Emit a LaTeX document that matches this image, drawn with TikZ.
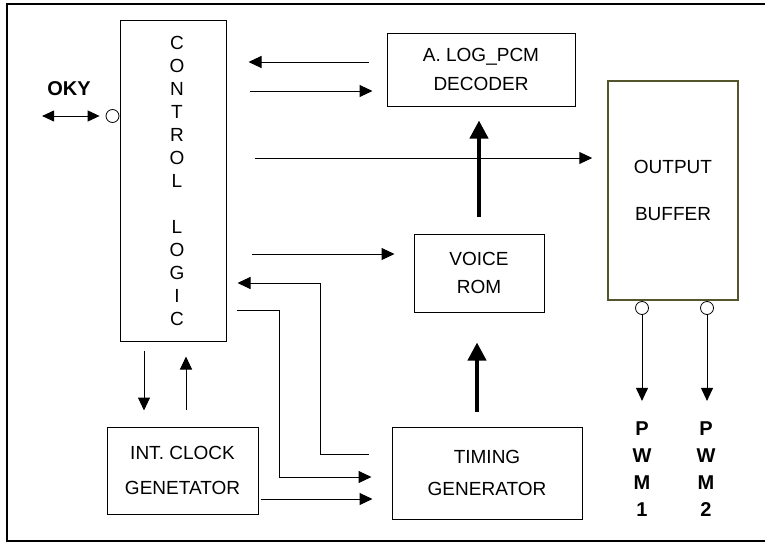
\documentclass[tikz,border=0pt]{standalone}
\usepackage{fontspec}
\setmainfont{Liberation Sans}
\usetikzlibrary{arrows.meta,calc}
\definecolor{bufcolor}{RGB}{85,85,45}

\begin{document}
\begin{tikzpicture}[x=1pt,y=-1pt,
  blk/.style={draw=black,line width=1pt,align=center,inner sep=0pt,
    font=\fontsize{19}{22}\selectfont},
  arr/.style={line width=1pt,-{Triangle[length=13pt,width=12pt]}},
  bigarr/.style={line width=4pt,-{Triangle[length=18pt,width=18pt]}},
  port/.style={draw,circle,line width=0.8pt,fill=white,inner sep=0pt,minimum size=13pt},
  pin/.style={align=center,font=\fontsize{20}{27}\selectfont\bfseries}
]
\useasboundingbox (0,0) rectangle (765,544);

% ================= OUTER FRAME =================
\draw[line width=1.5pt] (772,4) -- (7,4) -- (7,541) -- (772,541);

% ================= BLOCKS =================
\node[blk, minimum width=106pt, minimum height=321pt,
  font=\fontsize{19}{23}\selectfont] (ctrl) at (173,180.5)
{\hspace*{8pt}C\\\hspace*{8pt}O\\\hspace*{8pt}N\\\hspace*{8pt}T\\\hspace*{8pt}R\\
 \hspace*{8pt}O\\\hspace*{8pt}L\\[23pt]\hspace*{8pt}L\\\hspace*{8pt}O\\\hspace*{8pt}G\\
 \hspace*{8pt}I\\\hspace*{8pt}C};

\node[blk, minimum width=188pt, minimum height=73pt] (dec) at (481,69.5)
{A. LOG\_PCM\\[7pt]DECODER};

\node[blk, minimum width=130pt, minimum height=78pt] (rom) at (479,273)
{VOICE\\[6pt]ROM};

\node[blk, draw=bufcolor, line width=1.5pt, minimum width=130pt,
  minimum height=219pt] (buf) at (673,190.5)
{OUTPUT\\[25pt]BUFFER};

\node[blk, minimum width=151pt, minimum height=87pt] (clk) at (182.5,470.5)
{INT. CLOCK\\[13pt]GENETATOR};

\node[blk, minimum width=190pt, minimum height=92pt] (tim) at (487,473)
{TIMING\\[10pt]GENERATOR};

% ================= OKY INPUT =================
\node[font=\fontsize{20}{24}\selectfont\bfseries] (oky) at (69,89) {OKY};
\node[port] (okyc) at (112.5,116) {};
\draw[line width=1pt,{Triangle[length=12pt,width=11pt]}-{Triangle[length=12pt,width=11pt]}]
  ($(okyc.west)+(-63.5,0)$) -- ($(okyc.west)+(-6,0)$);

% ================= CONTROL <-> DECODER =================
\draw[arr] ($(dec.west)+(-18,-7.5)$) -- ($(ctrl.east)+(22,-118.5)$);
\draw[arr] ($(ctrl.east)+(23,-89.5)$) -- ($(dec.west)+(-14,21.5)$);

% ================= CONTROL -> BUFFER / ROM =================
\draw[arr] ($(ctrl.east)+(28,-22.5)$) -- ($(buf.west)+(-15,-32.5)$);
\draw[arr] ($(ctrl.east)+(25,73.5)$) -- ($(rom.west)+(-19,-19)$);

% ================= TIMING <-> CONTROL =================
\draw[arr] ($(tim.west)+(-23,-19)$) -| ($(ctrl.east)+(94,102.5)$)
  -- ($(ctrl.east)+(11,102.5)$);
\draw[arr] ($(ctrl.east)+(10,129.5)$) -- ($(ctrl.east)+(53,129.5)$)
  |- ($(tim.west)+(-20,4)$);
\draw[arr] ($(clk.east)+(2,28.5)$) -- ($(tim.west)+(-19,26)$);

% ================= CONTROL <-> CLOCK =================
\draw[arr] ($(ctrl.south)+(-29,9)$) -- ($(clk.north)+(-38.5,-16)$);
\draw[arr] ($(clk.north)+(3.5,-17)$) -- ($(ctrl.south)+(13,15)$);

% ================= DATA PATH =================
\draw[bigarr] ($(tim.north)+(-10,-15)$) -- ($(rom.south)+(-2,30)$);
\draw[bigarr] ($(rom.north)+(0,-17)$) -- ($(dec.south)+(-2,14)$);

% ================= PWM OUTPUTS =================
\node[port] (p1c) at (642,308) {};
\node[port] (p2c) at (707,308) {};
\node[pin] (pwm1) at (642,469.5) {P\\W\\M\\1};
\node[pin] (pwm2) at (706,469.5) {P\\W\\M\\2};
\draw[arr] (p1c.south) -- ($(p1c.south)+(0,86)$);
\draw[arr] (p2c.south) -- ($(p2c.south)+(0,86)$);

\end{tikzpicture}
\end{document}
